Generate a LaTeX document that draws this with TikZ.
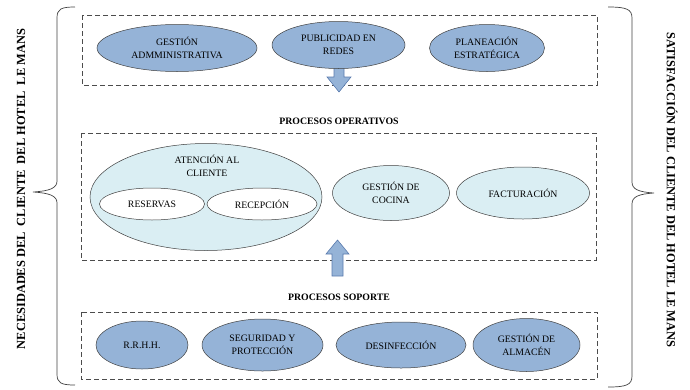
\documentclass[tikz,border=0pt]{standalone}
\usepackage{fontspec}
\setmainfont{Liberation Serif}
\usepackage{tikz}
\usetikzlibrary{shapes.geometric,backgrounds}
\usepackage{xcolor}

\definecolor{procblue}{HTML}{95B3D7}
\definecolor{proclight}{HTML}{DAEEF3}
\definecolor{arrowedge}{HTML}{5A7BAE}

\tikzset{
  procdark/.style={ellipse, draw=black!75, fill=procblue, line width=0.5pt,
    inner sep=0pt, align=center, font=\fontsize{9.8}{13.5}\selectfont},
  proclite/.style={procdark, fill=proclight},
  procsub/.style={procdark, fill=white},
  frame/.style={draw=black!70, line width=0.6pt, dash pattern=on 5pt off 3pt},
  blockarrow/.style={fill=procblue, draw=arrowedge, line width=0.6pt, line join=miter},
  bracepath/.style={draw=black!75, line width=0.7pt},
  title/.style={font=\fontsize{9.8}{12}\selectfont\bfseries},
  sidetext/.style={font=\fontsize{12.4}{14}\selectfont\bfseries}
}

\begin{document}
\begin{tikzpicture}[x=1pt, y=-1pt]
    \useasboundingbox (0,0) rectangle (690,389);

    % --- 1. DASHED FRAMES AND BLOCK ARROWS (behind the ellipses) ---
    \begin{scope}[on background layer]
        \draw[frame] (82,15) rectangle (597,85);
        \draw[frame] (81,133) rectangle (596,260);
        \draw[frame] (81,312) rectangle (597,379);

        % arrow from the top row down into the operative processes
        \draw[blockarrow] (334,60) -- (334,77) -- (327,77) -- (339,92)
            -- (351,77) -- (344,77) -- (344,60) -- cycle;
        % arrow from the support processes up
        \draw[blockarrow] (332,276) -- (332,254) -- (326,254) -- (337.5,240)
            -- (349,254) -- (343,254) -- (343,276) -- cycle;
    \end{scope}

    % --- 2. STRATEGIC PROCESSES (top row) ---
    \node[procdark, minimum width=160, minimum height=47] (admin) at (177,48)
        {GESTIÓN\\ADMMINISTRATIVA};
    \node[procdark, minimum width=133, minimum height=47] (redes) at (338.5,45)
        {PUBLICIDAD EN\\REDES};
    \node[procdark, minimum width=115, minimum height=47] (planea) at (487,48)
        {PLANEACIÓN\\ESTRATÉGICA};

    % --- 3. OPERATIVE PROCESSES ---
    \node[title] (opertitle) at (339,121) {PROCESOS OPERATIVOS};

    \node[proclite, minimum width=232, minimum height=107] (atencion) at (206,197) {};
    \node[font=\fontsize{9.8}{13}\selectfont, align=center] (atencionlbl) at (207,166)
        {ATENCIÓN AL\\CLIENTE};
    \node[procsub, minimum width=105, minimum height=32] (reservas) at (152,204) {RESERVAS};
    \node[procsub, minimum width=110, minimum height=32] (recepcion) at (262,204) {RECEPCIÓN};

    \node[proclite, minimum width=117, minimum height=55] (cocina) at (391,193)
        {GESTIÓN DE\\COCINA};
    \node[proclite, minimum width=133, minimum height=52] (factura) at (523,193)
        {FACTURACIÓN};

    % --- 4. SUPPORT PROCESSES (bottom row) ---
    \node[title] (soptitle) at (339,297) {PROCESOS SOPORTE};

    \foreach \name/\cx/\w/\h/\txt in {rrhh/142/92/48/{R.R.H.H.},
        seguridad/262.5/121/52/{SEGURIDAD Y\\PROTECCIÓN},
        desinf/401/130/46/{DESINFECCIÓN},
        almacen/526.5/107/53/{GESTIÓN DE\\ALMACÉN}} {
        \node[procdark, minimum width=\w, minimum height=\h] (\name) at (\cx,345) {\txt};
    }

    % --- 5. SIDE BRACES AND TEXTS ---
    \draw[bracepath] (75,7) .. controls (61,7) and (57,9) .. (57,18) -- (57,181)
        .. controls (57,188) and (50,191) .. (33,192)
        .. controls (50,193) and (57,196) .. (57,203) -- (57,374)
        .. controls (57,383) and (61,385) .. (75,385);
    \draw[bracepath] (608,7) .. controls (626,7) and (632,9) .. (632,18) -- (632,182)
        .. controls (632,189) and (638,192) .. (654,193)
        .. controls (638,194) and (632,197) .. (632,204) -- (632,376)
        .. controls (632,385) and (626,387) .. (608,387);

    \node[sidetext, rotate=90] (necesidades) at (21,189)
        {NECESIDADES DEL\ \ CLIENTE\ \ DEL HOTEL\ \ LE MANS};
    \node[sidetext, rotate=-90] (satisfaccion) at (672,190)
        {SATISFACCIÓN DEL CLIENTE DEL HOTEL LE MANS};

\end{tikzpicture}
\end{document}
